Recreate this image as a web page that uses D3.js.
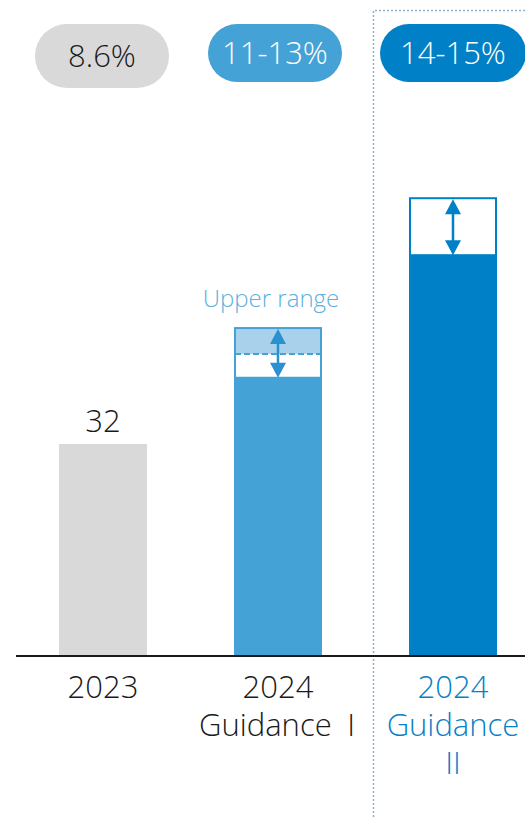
<!DOCTYPE html>
<html><head><meta charset="utf-8">
<script src="https://cdn.jsdelivr.net/npm/d3@7"></script>
<style>html,body{margin:0;padding:0;background:#fff;}svg{display:block;}</style>
</head><body>
<svg id="c" width="525" height="817"></svg>
<script>
const categories = ["2023", "2024 Guidance I", "2024 Guidance II"];
const labelLines = [["2023"], ["2024", "Guidance\u2002I"], ["2024", "Guidance", "II"]];
const baseValues = [32, 42, 60.5];
const midValues = [null, 45.6, null];
const upperValues = [null, 49.5, 69.1];
const growthLabels = ["8.6%", "11-13%", "14-15%"];
const valueLabels = ["32", null, null];

const colors = ["#d9d9d9", "#45a2d6", "#0080c6"];
const font = "'Open Sans', 'Noto Sans', sans-serif";
const fw = 300;

const svg = d3.select("#c");
const x = d3.scalePoint().domain(categories).range([103, 453]);
const y = d3.scaleLinear().domain([0, 32]).range([656, 444]);
const bw = 88;

// dotted highlight frame
svg.append("path")
  .attr("d", `M373.5,817 V10.5 H525`)
  .attr("fill", "none").attr("stroke", "#8fb0cc").attr("stroke-width", 1.5)
  .attr("stroke-dasharray", "2,2");

// bars
categories.forEach((c, i) => {
  const cx = x(c);
  svg.append("rect").attr("x", cx - bw/2).attr("y", y(baseValues[i]))
    .attr("width", bw).attr("height", y(0) - y(baseValues[i])).attr("fill", colors[i]);
  if (upperValues[i] != null) {
    if (midValues[i] != null) {
      svg.append("rect").attr("x", cx - bw/2 + 1).attr("y", y(upperValues[i]))
        .attr("width", bw - 2).attr("height", y(midValues[i]) - y(upperValues[i]))
        .attr("fill", "#a9d1ec");
      svg.append("line").attr("x1", cx - bw/2 + 1).attr("x2", cx + bw/2 - 1)
        .attr("y1", y(midValues[i])).attr("y2", y(midValues[i]))
        .attr("stroke", colors[i]).attr("stroke-width", 2).attr("stroke-dasharray", "6,3");
    }
    svg.append("rect").attr("x", cx - bw/2 + 1).attr("y", y(upperValues[i]))
      .attr("width", bw - 2).attr("height", y(baseValues[i]) - y(upperValues[i]))
      .attr("fill", "none").attr("stroke", colors[i]).attr("stroke-width", 2);
    // double arrow
    const top = y(upperValues[i]) + 1, bot = y(baseValues[i]);
    const ac = i === 1 ? "#2a90cf" : colors[i];
    svg.append("line").attr("x1", cx).attr("x2", cx).attr("y1", top + 10).attr("y2", bot - 10)
      .attr("stroke", ac).attr("stroke-width", 2.5);
    svg.append("path").attr("d", `M${cx},${top} L${cx-8},${top+15} L${cx+8},${top+15} Z`).attr("fill", ac);
    svg.append("path").attr("d", `M${cx},${bot} L${cx-8},${bot-15} L${cx+8},${bot-15} Z`).attr("fill", ac);
  }
  if (valueLabels[i]) {
    svg.append("text").attr("x", cx).attr("y", y(baseValues[i]) - 12)
      .attr("text-anchor", "middle").attr("font-family", font).attr("font-weight", fw)
      .attr("font-size", 31).attr("fill", "#1a1a1a").text(valueLabels[i]);
  }
});

// "Upper range" label
svg.append("text").attr("x", x(categories[1]) - 7).attr("y", y(upperValues[1]) - 21)
  .attr("text-anchor", "middle").attr("font-family", font).attr("font-weight", fw)
  .attr("font-size", 24).attr("fill", "#5cb0e0").text("Upper range");

// axis baseline
svg.append("line").attr("x1", 16).attr("x2", 525).attr("y1", 656).attr("y2", 656)
  .attr("stroke", "#1a1a1a").attr("stroke-width", 2);

// category labels
categories.forEach((c, i) => {
  labelLines[i].forEach((t, j) => {
    svg.append("text").attr("x", x(c) - (i === 1 && j === 1 ? 1 : 0)).attr("y", 698 + j * 38)
      .attr("text-anchor", "middle").attr("font-family", font).attr("font-weight", fw)
      .attr("font-size", 31)
      .attr("fill", i === 2 ? "#0a7fc6" : "#1a1a1a").text(t);
  });
});

// growth pills
const pills = [
  {x0: 35, x1: 169, y0: 24, y1: 88},
  {x0: 208, x1: 342, y0: 24, y1: 82},
  {x0: 380, x1: 526, y0: 24, y1: 82}
];
categories.forEach((c, i) => {
  const p = pills[i];
  const h = p.y1 - p.y0;
  svg.append("rect").attr("x", p.x0).attr("y", p.y0).attr("width", p.x1 - p.x0)
    .attr("height", h).attr("rx", h/2).attr("fill", colors[i]);
  svg.append("text").attr("x", (p.x0 + p.x1) / 2).attr("y", (p.y0 + p.y1) / 2 + 11)
    .attr("text-anchor", "middle").attr("font-family", font).attr("font-weight", fw)
    .attr("font-size", 31).attr("fill", i === 0 ? "#1a1a1a" : "#fff").text(growthLabels[i]);
});
</script>
</body></html>
